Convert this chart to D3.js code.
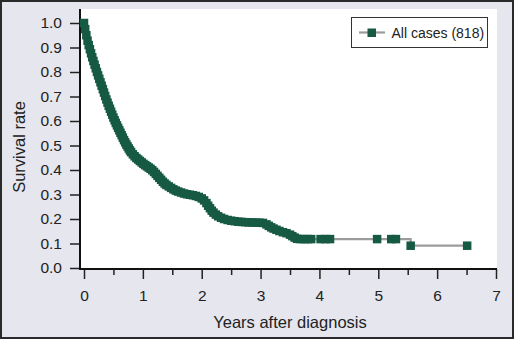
<!DOCTYPE html>
<html><head><meta charset="utf-8">
<script src="https://cdn.jsdelivr.net/npm/d3@7"></script>
<style>html,body{margin:0;padding:0;background:#e6e6ee;}svg{display:block;font-family:"Liberation Sans",Arial,Helvetica,sans-serif;}</style>
</head><body><svg id="c" width="514" height="339"></svg>
<script>
const times = [0.00,0.02,0.04,0.06,0.08,0.10,0.12,0.14,0.16,0.18,0.20,0.22,0.24,0.26,0.28,0.30,0.32,0.34,0.36,0.38,0.40,0.42,0.44,0.46,0.48,0.50,0.52,0.54,0.56,0.58,0.60,0.62,0.64,0.66,0.68,0.70,0.72,0.74,0.76,0.78,0.80,0.83,0.86,0.89,0.92,0.95,0.98,1.01,1.04,1.07,1.10,1.13,1.16,1.19,1.22,1.25,1.28,1.31,1.34,1.37,1.40,1.44,1.48,1.52,1.56,1.60,1.65,1.70,1.75,1.80,1.85,1.90,1.95,2.00,2.04,2.08,2.11,2.14,2.17,2.20,2.24,2.28,2.33,2.38,2.44,2.50,2.56,2.62,2.68,2.74,2.80,2.86,2.92,2.98,3.04,3.10,3.14,3.18,3.22,3.27,3.32,3.38,3.44,3.50,3.54,3.58,3.62,3.68,3.74,3.80,3.86,4.02,4.10,4.18,4.98,5.22,5.30,5.55,6.51];
const survival = [1.000,0.975,0.950,0.928,0.910,0.893,0.876,0.860,0.845,0.830,0.815,0.800,0.786,0.772,0.758,0.744,0.730,0.716,0.702,0.688,0.675,0.662,0.650,0.638,0.626,0.614,0.603,0.592,0.582,0.572,0.562,0.552,0.542,0.532,0.522,0.513,0.504,0.496,0.488,0.480,0.473,0.464,0.456,0.449,0.443,0.437,0.431,0.425,0.420,0.415,0.410,0.405,0.399,0.392,0.384,0.376,0.368,0.360,0.352,0.345,0.339,0.333,0.327,0.321,0.316,0.312,0.308,0.304,0.301,0.299,0.297,0.294,0.290,0.284,0.276,0.265,0.254,0.244,0.234,0.226,0.218,0.211,0.205,0.200,0.196,0.193,0.191,0.189,0.188,0.187,0.186,0.186,0.185,0.185,0.184,0.178,0.172,0.166,0.161,0.156,0.151,0.146,0.142,0.136,0.130,0.124,0.119,0.118,0.118,0.118,0.118,0.118,0.118,0.118,0.118,0.118,0.118,0.091,0.091];
const xTicks = [0,1,2,3,4,5,6,7];
const xMinorTicks = [0.5,1.5,2.5,3.5,4.5,5.5,6.5];
const yTicks = [0,0.1,0.2,0.3,0.4,0.5,0.6,0.7,0.8,0.9,1.0];
const seriesName = "All cases (818)";
const xTitle = "Years after diagnosis";
const yTitle = "Survival rate";

const data = times.map((t,i)=>({t, s: survival[i]}));
const svg = d3.select("#c");
const green = "#175a43", gray = "#9c9c9c";

svg.append("rect").attr("x",1).attr("y",1).attr("width",512).attr("height",337)
  .attr("fill","#e6e6ee").attr("stroke","#2a2a2a").attr("stroke-width",2);
svg.append("rect").attr("x",80).attr("y",9).attr("width",417).attr("height",260).attr("fill","#fff");

const x = d3.scaleLinear().domain([0,7]).range([84,496]);
const y = d3.scaleLinear().domain([0,1]).range([268,23]);

const xAx = svg.append("g").attr("transform","translate(0,269)")
  .call(d3.axisBottom(x).tickValues(xTicks).tickSize(10).tickSizeOuter(0).tickPadding(11).tickFormat(d3.format("d")));
const xMin = svg.append("g").attr("transform","translate(0,269)")
  .call(d3.axisBottom(x).tickValues(xMinorTicks).tickSize(6).tickSizeOuter(0).tickFormat(""));
const yAx = svg.append("g").attr("transform","translate(80,0)")
  .call(d3.axisLeft(y).tickValues(yTicks).tickSize(10).tickSizeOuter(0).tickPadding(8).tickFormat(d3.format(".1f")));
[xAx,xMin,yAx].forEach(g=>{
  g.select(".domain").remove();
  g.selectAll(".tick line").attr("stroke","#222").attr("stroke-width",1.5);
  g.selectAll("text").attr("fill","#222").attr("font-size",15.5).attr("font-family","Liberation Sans, Arial, sans-serif");
});
svg.append("line").attr("x1",80).attr("x2",80).attr("y1",9).attr("y2",269.5).attr("stroke","#111").attr("stroke-width",2);
svg.append("line").attr("x1",79).attr("x2",497).attr("y1",269).attr("y2",269).attr("stroke","#111").attr("stroke-width",2);

svg.append("text").attr("x",290).attr("y",328).attr("text-anchor","middle")
  .attr("font-size",16.5).attr("fill","#222").text(xTitle);
svg.append("text").attr("transform","translate(25,147) rotate(-90)").attr("text-anchor","middle")
  .attr("font-size",16.5).attr("fill","#222").text(yTitle);

const line = d3.line().x(d=>x(d.t)).y(d=>y(d.s)).curve(d3.curveStepAfter);
svg.append("path").datum(data).attr("d",line).attr("fill","none").attr("stroke",gray).attr("stroke-width",2.2);
const sz = 8.5;
svg.append("g").selectAll("rect").data(data).join("rect")
  .attr("x",d=>x(d.t)-sz/2).attr("y",d=>y(d.s)-sz/2).attr("width",sz).attr("height",sz)
  .attr("fill",green);

const lg = svg.append("g");
lg.append("rect").attr("x",351.5).attr("y",17.5).attr("width",136).attr("height",30)
  .attr("fill","#fff").attr("stroke","#333").attr("stroke-width",1);
lg.append("line").attr("x1",359).attr("x2",385).attr("y1",32.5).attr("y2",32.5).attr("stroke",gray).attr("stroke-width",2.2);
lg.append("rect").attr("x",367.5).attr("y",28.5).attr("width",8.5).attr("height",8.5).attr("fill",green);
lg.append("text").attr("x",391.5).attr("y",37.5).attr("font-size",14).attr("fill","#222").text(seriesName);
</script></body></html>
